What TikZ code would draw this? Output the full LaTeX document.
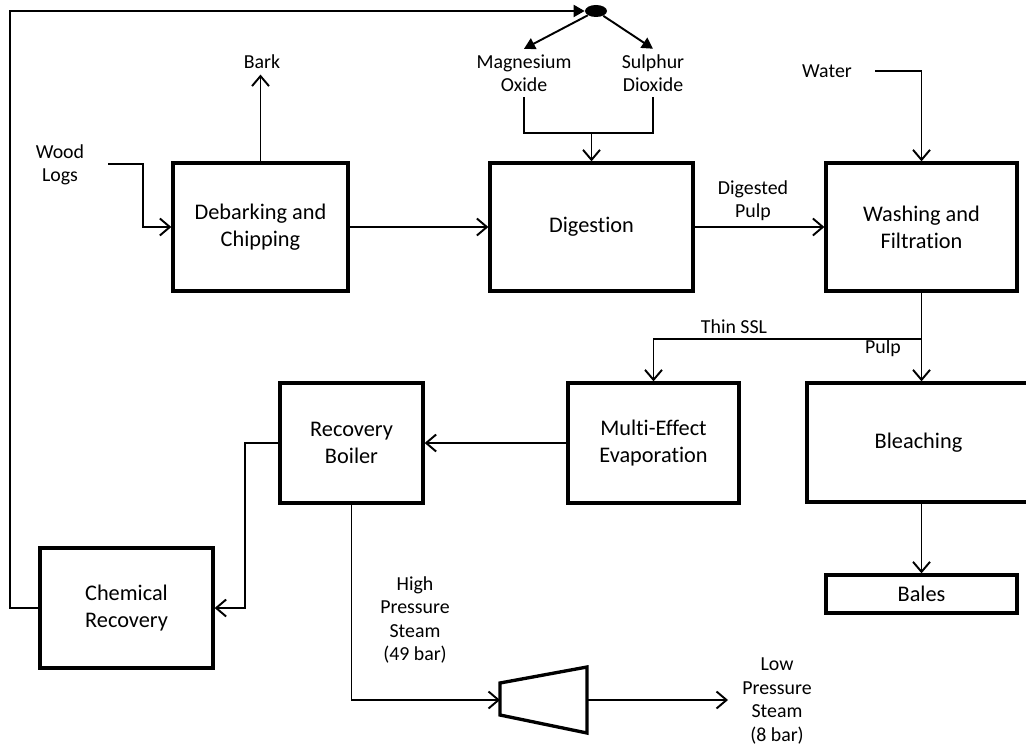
\documentclass[tikz,border=0pt]{standalone}
\usepackage{fontspec}
\setmainfont{Carlito}[Ligatures={NoCommon}]
\usetikzlibrary{arrows.meta, positioning, shapes.geometric}

\begin{document}
\begin{tikzpicture}[
    x=0.02cm, y=-0.02cm,
    unit/.style={draw, line width=1.9pt, align=center, font=\fontsize{12.7}{15.4}\selectfont, inner sep=2pt},
    stream/.style={font=\fontsize{11.3}{13.3}\selectfont, align=center, inner sep=3pt},
    ln/.style={line width=1.1pt},
    arr/.style={-{Straight Barb[length=2mm, width=3.4mm]}, line width=1.1pt},
    fillarr/.style={-{Triangle[length=2.2mm, width=2.4mm]}, line width=1.1pt},
]
\useasboundingbox (0,0) rectangle (1026,746);

% --- Process units ---
\node[unit, minimum width=3.5cm,  minimum height=2.56cm] at (260.5,227) (debark) {Debarking and\\Chipping};
\node[unit, minimum width=4.06cm, minimum height=2.56cm] at (591.5,227) (digest) {Digestion};
\node[unit, minimum width=3.82cm, minimum height=2.56cm] at (921.5,227) (wash)   {Washing and\\Filtration};
\node[unit, minimum width=3.42cm, minimum height=2.4cm]  at (653.5,443) (evap)   {Multi-Effect\\Evaporation};
\node[unit, minimum width=4.46cm, minimum height=2.38cm] at (918.5,442.5) (bleach) {Bleaching};
\node[unit, minimum width=3.82cm, minimum height=0.76cm] at (921.5,594) (bales)  {Bales};
\node[unit, minimum width=2.86cm, minimum height=2.4cm]  at (351.5,443) (boiler) {Recovery\\Boiler};
\node[unit, minimum width=3.46cm, minimum height=2.4cm]  at (126.5,608) (chem)   {Chemical\\Recovery};

% --- Splitter and turbine ---
\node[ellipse, fill=black, minimum width=0.44cm, minimum height=0.24cm, inner sep=0pt] at (596,11) (split) {};
\draw[line width=1.9pt] (500,683) -- (587,667) -- (587,733) -- (500,715) -- cycle;
\coordinate (tin)  at (500,700);
\coordinate (tout) at (587,700);

% --- Stream labels ---
\node[stream] at (60,165)  (logs)  {Wood\\Logs};
\node[stream] at (262,62)  (bark)  {Bark};
\node[stream] at (524,73)  (mgo)   {Magnesium\\Oxide};
\node[stream] at (653,73)  (so2)   {Sulphur\\Dioxide};
\node[stream] at (827,71)  (water) {Water};
\node[stream] at (753,201) (dpulp) {Digested\\Pulp};
\node[stream] at (734,327) (thin)  {Thin SSL};
\node[stream] at (883,348) (pulp)  {Pulp};
\node[stream] at (415,620) (hps)   {High\\Pressure\\Steam\\(49 bar)};
\node[stream] at (777,701) (lps)   {Low\\Pressure\\Steam\\(8 bar)};

\coordinate (logsout)  at (108,164);
\coordinate (waterout) at (875,71);
\coordinate (mix)      at (591.5,133);
\coordinate (lpsin)    at (728,700);

% --- Main line ---
\draw[arr] (logsout) -- ++(35,0) |- (debark.west);
\draw[arr] (debark.north) -- (debark.north |- bark.south);
\draw[arr] (debark) -- (digest);
\draw[arr] (digest) -- (wash);
\draw[arr] (waterout) -| (wash.north);
\draw[arr] (wash.south) -- (wash.south |- bleach.north);
\path (wash.south) ++(0,46) coordinate (tee);
\draw[arr] (tee) -| (evap.north);
\draw[arr] (bleach.south -| bales.north) -- (bales.north);

% --- Chemicals to digestion ---
\draw[ln] (mgo.south) |- (mix) -| (so2.south);
\draw[arr] (mix) -- (digest.north);

% --- Liquor recovery ---
\draw[arr] (evap) -- (boiler);
\draw[arr] (boiler.west) -- ++(-33,0) |- (chem.east);
\draw[fillarr] (chem.west) -- ++(-28,0) |- (split.west);
\draw[fillarr] (split) -- (mgo.north);
\draw[fillarr] (split) -- (so2.north);

% --- Steam ---
\draw[arr] (boiler.south) |- (tin);
\draw[arr] (tout) -- (lpsin);

\end{tikzpicture}
\end{document}
